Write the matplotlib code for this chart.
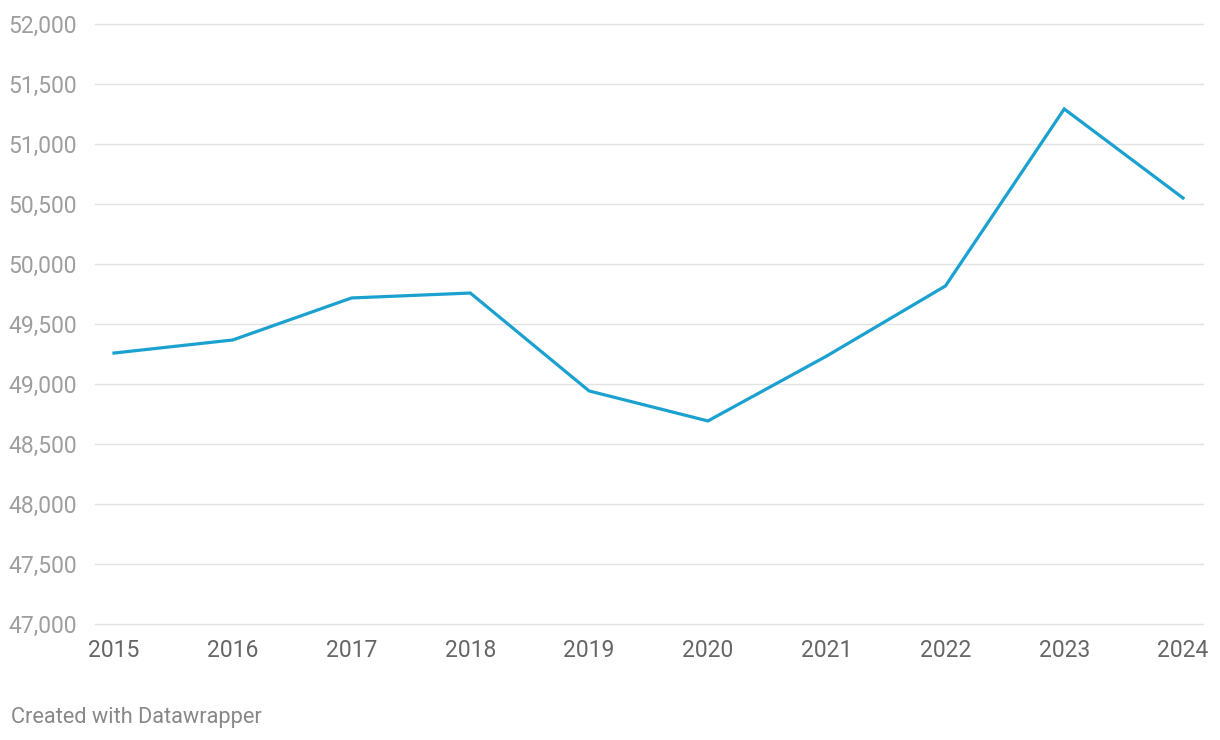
import matplotlib
matplotlib.use("Agg")
import matplotlib.pyplot as plt
from matplotlib.ticker import FuncFormatter

years = [2015, 2016, 2017, 2018, 2019, 2020, 2021, 2022, 2023, 2024]
values = [49258, 49367, 49717, 49758, 48942, 48692, 49233, 49817, 51292, 50550]
y_ticks = [47000, 47500, 48000, 48500, 49000, 49500, 50000, 50500, 51000, 51500, 52000]

plt.rcParams['font.family'] = ['Roboto', 'DejaVu Sans']

W, H = 1220, 740
fig = plt.figure(figsize=(W / 100, H / 100), dpi=100)
left, right, top, bottom = 95, 1203, 24, 624
ax = fig.add_axes([left / W, (H - bottom) / H, (right - left) / W, (bottom - top) / H])

ax.plot(years, values, color='#1aa1cf', linewidth=2.3, solid_joinstyle='miter', zorder=3)

px_per_year = (1183 - 114) / 9
ax.set_xlim(2015 - (114 - left) / px_per_year, 2024 + (right - 1183) / px_per_year)
ax.set_ylim(47000, 52000)

ax.set_yticks(y_ticks)
ax.yaxis.set_major_formatter(FuncFormatter(lambda v, p: f"{int(v):,}"))
ax.set_xticks(years)
ax.set_xticklabels([str(y) for y in years])

ax.grid(axis='y', color='#e3e3e3', linewidth=1.0, zorder=0)
ax.grid(axis='x', visible=False)
for gl in ax.get_ygridlines():
    gl.set_clip_on(False)
for s in ax.spines.values():
    s.set_visible(False)
ax.tick_params(axis='y', length=0, pad=13, labelsize=16.5, labelcolor='#9e9e9e')
ax.tick_params(axis='x', length=0, pad=11, labelsize=16.5, labelcolor='#666666')

fig.text(11 / W, 1 - 717 / H, "Created with Datawrapper", fontsize=15.7, color='#888888',
         ha='left', va='center')

fig.savefig("out.png", dpi=100, facecolor='white')
